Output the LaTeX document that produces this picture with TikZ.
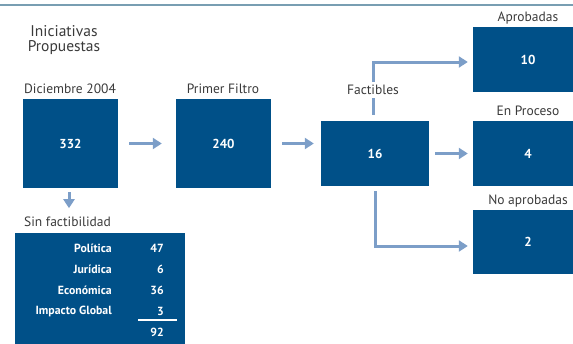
\documentclass[tikz,border=0pt]{standalone}
\usepackage{fontspec}
\setmainfont{PT Sans}
\usetikzlibrary{arrows.meta}
\definecolor{azul}{RGB}{0,80,136}
\definecolor{celeste}{RGB}{124,158,200}
\definecolor{gris}{RGB}{58,58,58}
\definecolor{raya}{RGB}{120,158,178}
\begin{document}
\begin{tikzpicture}[x=1pt, y=-1pt,
    caja/.style={fill=azul, draw=none, text=white, font=\fontsize{13}{14}\selectfont\bfseries, inner sep=0pt},
    etiqueta/.style={text=gris, font=\fontsize{13.5}{14}\selectfont, inner sep=1pt},
    flecha/.style={celeste, line width=3pt, -{Triangle[length=9pt,width=11pt]}},
    tabla/.style={text=white, font=\fontsize{11.8}{14}\selectfont\bfseries, inner sep=0pt, anchor=east}]
    \useasboundingbox (0,0) rectangle (573,343);

    % Linea superior
    \draw[raya, line width=1.5pt] (0,5) -- (573,5);

    % Titulo
    \node[etiqueta, font=\fontsize{15.5}{15}\selectfont, align=center] (titulo) at (64,40) {Iniciativas\\Propuestas};

    % Cajas principales
    \node[caja, minimum width=95pt, minimum height=89pt] (b332) at (70.5,143.5) {332};
    \node[caja, minimum width=95pt, minimum height=89pt] (b240) at (223.5,143.5) {240};
    \node[caja, minimum width=108pt, minimum height=65pt] (b16) at (375,153.5) {16};
    \node[caja, minimum width=110pt, minimum height=65pt] (b10) at (528,59.5) {10};
    \node[caja, minimum width=110pt, minimum height=65pt] (b4) at (528,153.5) {4};
    \node[caja, minimum width=110pt, minimum height=64pt] (b2) at (528,242) {2};

    % Etiquetas
    \node[etiqueta] (ldic) at (70,89) {Diciembre 2004};
    \node[etiqueta] (lfil) at (223,89) {Primer Filtro};
    \node[etiqueta] (lapr) at (528,18) {Aprobadas};
    \node[etiqueta] (lpro) at (528,111) {En Proceso};
    \node[etiqueta] (lnoa) at (528,201) {No aprobadas};
    \node[etiqueta, anchor=west] (lsin) at (23,222) {Sin factibilidad};

    % Flechas
    \draw[flecha] ([xshift=11pt]b332.east) -- ([xshift=-14pt]b240.west);
    \draw[flecha] ([xshift=11pt]b240.east) -- ([xshift=-7pt]b16.west |- b240.east);
    \draw[flecha] ([xshift=6pt]b16.east) -- ([xshift=-5pt]b4.west);
    \draw[flecha] ([xshift=-2pt,yshift=6pt]b16.north) |- ([xshift=-5pt,yshift=-2.5pt]b10.west);
    \draw[flecha] ([yshift=-5pt]b16.south) |- ([xshift=-5pt,yshift=-4pt]b2.west);
    \draw[flecha] ([xshift=-1.5pt,yshift=-4pt]b332.south) -- ([xshift=-1.5pt,yshift=-20pt]b332.south);
    \node[etiqueta, fill=white, inner sep=3pt] (lfac) at (373,90) {Factibles};

    % Sin factibilidad
    \node[caja, minimum width=170pt, minimum height=112pt] (sinfac) at (100,289) {};
    \foreach \nombre/\valor [count=\i] in {Política/47, Jurídica/6, Económica/36, Impacto Global/3}{
        \node[tabla] (n\i) at (112,{248+21*(\i-1)}) {\nombre};
        \node[tabla] (v\i) at (164,{248+21*(\i-1)}) {\valor};
    }
    \draw[white, line width=2pt] ([xshift=-26pt,yshift=-5pt]v4.south east) -- ([xshift=13pt,yshift=-5pt]v4.south east);
    \node[tabla] (total) at (164,332) {92};

\end{tikzpicture}
\end{document}
